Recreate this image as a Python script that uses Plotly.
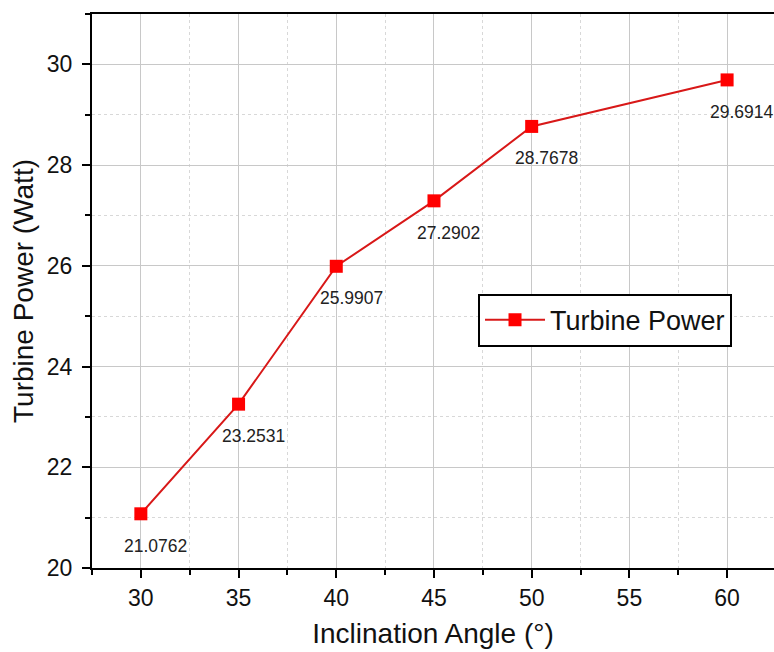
import plotly.graph_objects as go

angles = [30, 35, 40, 45, 50, 60]
power = [21.0762, 23.2531, 25.9907, 27.2902, 28.7678, 29.6914]
labels = ["21.0762", "23.2531", "25.9907", "27.2902", "28.7678", "29.6914"]

FONT = "Liberation Sans, Arial, sans-serif"

fig = go.Figure()
fig.add_trace(go.Scatter(
    x=angles, y=power, mode="lines+markers", name="Turbine Power",
    line=dict(color="#d81818", width=2),
    marker=dict(symbol="square", size=13, color="#ff0000", line=dict(width=0)),
))

for xv, yv, t in zip(angles, power, labels):
    fig.add_annotation(x=xv, y=yv, text=t, showarrow=False, xshift=15, yshift=-32,
                       font=dict(family=FONT, size=17.5, color="#222"))

fig.update_layout(
    width=774, height=652,
    margin=dict(l=92, r=0, t=14, b=84),
    paper_bgcolor="white", plot_bgcolor="white",
    font=dict(family=FONT, color="#111"),
    showlegend=True,
    legend=dict(x=0.566, y=0.495, xanchor="left", yanchor="top",
                bordercolor="black", borderwidth=2, bgcolor="white",
                font=dict(family=FONT, size=27, color="#111"),
                itemwidth=60, tracegroupgap=0),
)

fig.update_xaxes(
    range=[27.5, 62.4], tickvals=[30, 35, 40, 45, 50, 55, 60],
    ticks="outside", ticklen=8, tickwidth=2, tickcolor="black",
    showline=True, linecolor="black", linewidth=2, mirror=True,
    showgrid=True, gridcolor="#c8c8c8", gridwidth=1,
    minor=dict(dtick=2.5, tick0=27.5, ticks="outside", ticklen=5, tickwidth=2, tickcolor="black",
               showgrid=True, gridcolor="#d8d8d8", griddash="3px,3px", gridwidth=1),
    tickfont=dict(family=FONT, size=23, color="#111"),
    title=dict(text="Inclination Angle (°)", font=dict(family=FONT, size=28, color="#111"), standoff=14),
    zeroline=False,
)
fig.update_yaxes(
    range=[20, 31], tickvals=[20, 22, 24, 26, 28, 30],
    ticks="outside", ticklen=8, tickwidth=2, tickcolor="black",
    showline=True, linecolor="black", linewidth=2, mirror=False,
    showgrid=True, gridcolor="#c8c8c8", gridwidth=1,
    minor=dict(dtick=1, tick0=20, ticks="outside", ticklen=5, tickwidth=2, tickcolor="black",
               showgrid=True, gridcolor="#d8d8d8", griddash="3px,3px", gridwidth=1),
    tickfont=dict(family=FONT, size=23, color="#111"),
    ticklabelstandoff=5,
    title=dict(text="Turbine Power (Watt)", font=dict(family=FONT, size=28, color="#111"), standoff=5),
    zeroline=False,
)

fig.write_html("out.html")
